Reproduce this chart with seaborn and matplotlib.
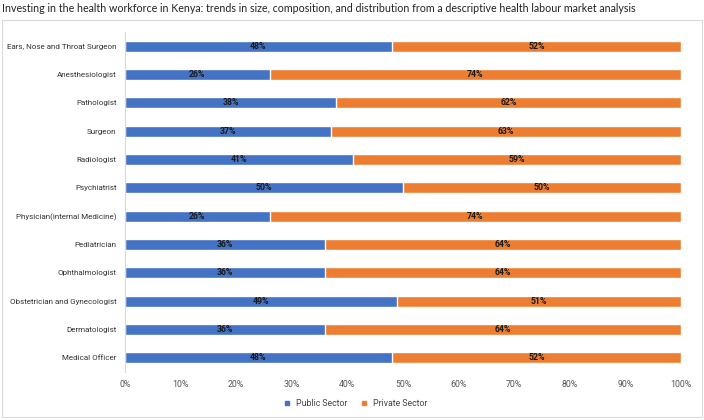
import pandas as pd
import matplotlib.pyplot as plt
import seaborn as sns
from matplotlib.lines import Line2D
from matplotlib.patches import Rectangle

roles = ["Ears, Nose and Throat Surgeon", "Anesthesiologist", "Pathologist", "Surgeon",
         "Radiologist", "Psychiatrist", "Physician(internal Medicine)", "Pediatrician",
         "Ophthalmologist", "Obstetrician and Gynecologist", "Dermatologist", "Medical Officer"]
public = [48, 26, 38, 37, 41, 50, 26, 36, 36, 49, 36, 48]
private = [52, 74, 62, 63, 59, 50, 74, 64, 64, 51, 64, 52]
ticks = [0, 10, 20, 30, 40, 50, 60, 70, 80, 90, 100]

BLUE = "#4472C4"
ORANGE = "#ED7D31"

df = pd.DataFrame({"role": roles, "public": public, "private": private})
df["total"] = df["public"] + df["private"]

sns.set_style("white")
plt.rcParams["font.family"] = ["Roboto", "DejaVu Sans"]

fig = plt.figure(figsize=(7.04, 4.20), dpi=100)
ax = fig.add_axes([125 / 704, 1 - 372 / 420, (681 - 125) / 704, (372 - 32) / 420])

# private bar covers full width, public drawn on top of it
sns.barplot(data=df, x="total", y="role", color=ORANGE, orient="h", width=0.39,
            saturation=1, ax=ax)
sns.barplot(data=df, x="public", y="role", color=BLUE, orient="h", width=0.39,
            saturation=1, ax=ax)

for i, (p, q) in enumerate(zip(public, private)):
    ax.text(p / 2, i, f"{p}%", ha="center", va="center", fontsize=6.3,
            fontweight="bold", color="#1a1a1a")
    ax.text(p + q / 2, i, f"{q}%", ha="center", va="center", fontsize=6.3,
            fontweight="bold", color="#1a1a1a")

ax.set_xlim(0, 100)
ax.set_ylim(len(roles) - 0.5, -0.5)
ax.set_xticks(ticks)
ax.set_xticklabels([f"{t}%" for t in ticks], fontsize=6.3, color="#555555")
ax.tick_params(axis="y", labelsize=5.8, colors="#333333", length=0, pad=6)
ax.tick_params(axis="x", length=0, pad=6)
ax.set_xlabel("")
ax.set_ylabel("")
for s in ["top", "right", "bottom"]:
    ax.spines[s].set_visible(False)
ax.spines["left"].set_color("#d9d9d9")

leg_handles = [Line2D([], [], marker="s", linestyle="", color=BLUE, markersize=3.5),
               Line2D([], [], marker="s", linestyle="", color=ORANGE, markersize=3.5)]
fig.legend(leg_handles, ["Public Sector", "Private Sector"], loc="center",
           bbox_to_anchor=(353 / 704, 1 - 404 / 420), ncol=2, frameon=False,
           fontsize=6.3, handletextpad=0.0, columnspacing=0.9, labelcolor="#444444")

fig.patches.append(Rectangle((2 / 704, 3 / 420), 700 / 704, (420 - 20 - 3) / 420,
                             transform=fig.transFigure, fill=False, edgecolor="#d9d9d9", linewidth=0.8))
fig.text(2 / 704, 1 - 8 / 420, "Investing in the health workforce in Kenya: trends in size, composition, "
         "and distribution from a descriptive health labour market analysis",
         ha="left", va="center", fontsize=7.7, family=["Lato", "DejaVu Sans"], color="#222222")

fig.savefig("out.png", dpi=100)
